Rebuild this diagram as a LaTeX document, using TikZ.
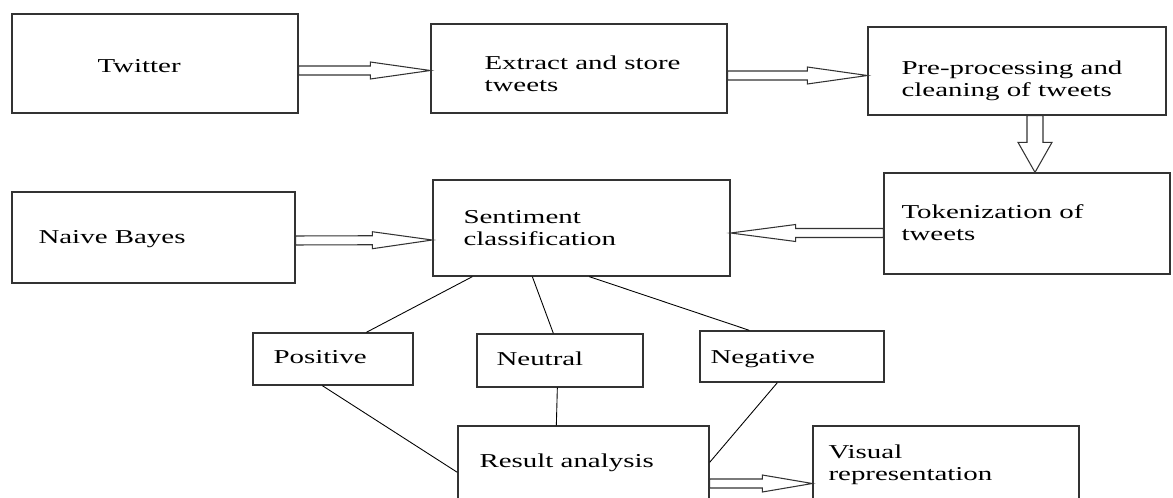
\documentclass[tikz,border=0pt]{standalone}
\usepackage{fontspec}
\setmainfont{Liberation Serif}
\usetikzlibrary{calc,fit}

% hollow block arrow: start, end, shaft half width, head half width, head length
\newcommand{\fatarrow}[5]{%
  \draw[fat] let \p1=(#1), \p2=(#2), \n1={atan2(\y2-\y1,\x2-\x1)}, \n2={veclen(\x2-\x1,\y2-\y1)} in
    [shift={(\p1)}, rotate=\n1]
    (0pt,-#3) -- (\n2-#5,-#3) -- (\n2-#5,-#4) -- (\n2,0pt) -- (\n2-#5,#4) -- (\n2-#5,#3) -- (0pt,#3) -- cycle;}

\begin{document}
\begin{tikzpicture}[x=0.02cm, y=-0.02cm]
            \tikzset{box/.style = {draw=black!80, line width=0.75pt, inner sep=0pt}}
            \tikzset{txt/.style = {font=\fontsize{11.2}{12.5}\selectfont, xscale=1.47, inner sep=0pt, align=left, anchor=base west}}
            \tikzset{link/.style = {draw=black, line width=0.5pt}}
            \tikzset{fat/.style = {draw=black!80, line width=0.6pt, fill=white}}

            \useasboundingbox (0,0) rectangle (1173,497);

            \node[box, fit={(12,14) (298,113)}] (twitter) {};
            \node[box, fit={(431,24) (727,113)}] (extract) {};
            \node[box, fit={(868,27) (1166,115)}] (prep) {};
            \node[box, fit={(884,173) (1170,274)}] (token) {};
            \node[box, fit={(433,180) (730,276)}] (senti) {};
            \node[box, fit={(12,192) (295,283)}] (naive) {};

            \node[box, fit={(253,333) (413,385)}] (pos) {};
            \node[box, fit={(477,334) (643,387)}] (neu) {};
            \node[box, fit={(700,331) (884,382)}] (neg) {};

            \node[box, fit={(458,426) (709,510)}] (result) {};
            \node[box, fit={(813,426) (1079,510)}] (visual) {};

            \node[txt] (twitterT) at (97,72) {Twitter};
            \node[txt] (extractT) at (484,91) {Extract and store\\tweets};
            \node[txt] (prepT) at (901,96) {Pre-processing and\\cleaning of tweets};
            \node[txt] (tokenT) at (901,240) {Tokenization of\\tweets};
            \node[txt] (sentiT) at (463,245) {Sentiment\\classification};
            \node[txt] (naiveT) at (38,243) {Naive Bayes};
            \node[txt] (posT) at (273,363) {Positive};
            \node[txt] (neuT) at (496,365) {Neutral};
            \node[txt] (negT) at (710,363) {Negative};
            \node[txt] (resultT) at (479,467) {Result analysis};
            \node[txt] (visualT) at (828,480) {Visual\\representation};

            % links
            \draw[link] ($(senti.south west)+(40,0)$) -- ($(pos.north west)+(114,0)$);
            \draw[link] ($(senti.south west)+(100,0)$) -- ($(neu.north west)+(77,0)$);
            \draw[link] ($(senti.south west)+(157,0)$) -- ($(neg.north west)+(50,0)$);
            \draw[link] ($(pos.south west)+(70,0)$) -- ($(result.north west)+(0,47)$);
            \draw[link] ($(neu.south west)+(81,0)$) -- ($(result.north west)+(99,0)$);
            \draw[link] ($(neg.south west)+(78,0)$) -- ($(result.north east)+(0,37)$);

            % block arrows
            \fatarrow{$(twitter.east)+(0,7)$}{$(extract.west)+(0,2)$}{0.09cm}{0.17cm}{1.2cm}
            \fatarrow{$(extract.east)+(0,7)$}{$(prep.west)+(0,4.5)$}{0.09cm}{0.17cm}{1.2cm}
            \fatarrow{$(prep.south)+(18,0)$}{$(token.north)+(8,0)$}{0.16cm}{0.34cm}{0.6cm}
            \fatarrow{$(naive.east)+(0,3)$}{$(senti.west)+(0,12)$}{0.09cm}{0.17cm}{1.2cm}
            \fatarrow{$(token.west)+(0,9.5)$}{$(senti.east)+(0,5)$}{0.09cm}{0.17cm}{1.3cm}
            \fatarrow{$(result.east)+(0,15.5)$}{$(visual.west)+(0,15.5)$}{0.09cm}{0.17cm}{1.0cm}
\end{tikzpicture}
\end{document}
